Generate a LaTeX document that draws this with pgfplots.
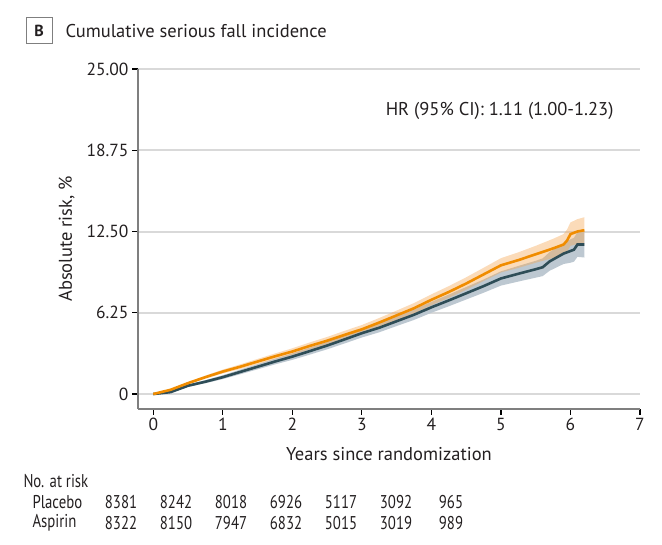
\documentclass[border=0pt]{standalone}
\usepackage{pgfplots}
\pgfplotsset{compat=1.18}
\usepgfplotslibrary{fillbetween}
\usepackage{fontspec}
\setmainfont{PT Sans}
\newfontfamily\narrowfont[FakeStretch=0.8]{PT Sans}

\definecolor{plorange}{HTML}{F08C00}
\definecolor{plorangeband}{HTML}{F5A550}
\definecolor{pldark}{HTML}{2E4D57}
\definecolor{pldarkband}{HTML}{BDC8D1}
\definecolor{gridgray}{HTML}{D9D9D9}
\definecolor{axgray}{HTML}{7F7F7F}
\definecolor{txt}{HTML}{231F20}

% x  estimate  lower  upper
\pgfplotstableread{
x y lo hi
0 0 0 0
0.25 0.33 0.28 0.38
0.5 0.84 0.76 0.92
0.75 1.30 1.18 1.42
1 1.73 1.58 1.88
1.25 2.10 1.92 2.28
1.5 2.50 2.30 2.70
1.75 2.90 2.68 3.12
2 3.27 3.02 3.52
2.25 3.70 3.43 3.97
2.5 4.10 3.81 4.39
2.75 4.55 4.24 4.86
3 4.98 4.65 5.31
3.25 5.50 5.15 5.85
3.5 6.05 5.68 6.42
3.75 6.60 6.20 7.00
4 7.25 6.83 7.67
4.25 7.85 7.40 8.30
4.5 8.50 8.02 8.98
4.75 9.20 8.69 9.71
5 9.90 9.35 10.45
5.25 10.30 9.70 10.90
5.5 10.75 10.10 11.40
5.75 11.20 10.46 11.94
5.9 11.50 10.70 12.30
5.95 11.80 10.95 12.65
6.0 12.30 11.40 13.20
6.1 12.50 11.55 13.45
6.2 12.60 11.60 13.60
}\placebo

\pgfplotstableread{
x y lo hi
0 0 0 0
0.25 0.15 0.10 0.20
0.5 0.64 0.56 0.72
0.75 0.95 0.83 1.07
1 1.30 1.15 1.45
1.25 1.70 1.52 1.88
1.5 2.10 1.90 2.30
1.75 2.50 2.28 2.72
2 2.88 2.63 3.13
2.25 3.30 3.03 3.57
2.5 3.73 3.44 4.02
2.75 4.20 3.89 4.51
3 4.68 4.35 5.01
3.25 5.10 4.75 5.45
3.5 5.60 5.23 5.97
3.75 6.10 5.70 6.50
4 6.67 6.25 7.09
4.25 7.20 6.75 7.65
4.5 7.75 7.27 8.23
4.75 8.30 7.79 8.81
5 8.89 8.34 9.44
5.25 9.25 8.65 9.85
5.5 9.60 8.95 10.25
5.6 9.75 9.07 10.43
5.7 10.20 9.48 10.92
5.8 10.50 9.74 11.26
5.9 10.80 10.00 11.60
6.0 11.00 10.10 11.90
6.05 11.10 10.18 12.02
6.1 11.50 10.55 12.45
6.2 11.50 10.50 12.50
}\aspirin

\begin{document}
\begin{tikzpicture}[font=\fontsize{18.5}{22}\selectfont, text=txt]

\begin{axis}[
  at={(138pt,136pt)}, anchor=south west,
  scale only axis, width=502pt, height=340pt,
  xmin=-0.22, xmax=7, ymin=-1.15, ymax=25,
  axis x line*=bottom, axis y line*=left,
  axis line style={axgray,line width=1.2pt},
  xtick={0,...,7},
  ytick={0,6.25,12.5,18.75,25},
  yticklabels={0,6.25,12.50,18.75,25.00},
  tick style={black,line width=1.2pt},
  tick align=outside, major tick length=6pt,
  ymajorgrids, grid style={gridgray,line width=2pt},
  tick label style={font=\fontsize{17.5}{21}\selectfont},
  /pgf/number format/assume math mode=true,
  xlabel={Years since randomization},
  ylabel={Absolute risk, \%},
  label style={font=\fontsize{18.5}{22}\selectfont},
  xlabel style={yshift=-9pt},
  ylabel style={yshift=5pt},
]
\addplot[draw=none,name path=ahi] table[x=x,y=hi] {\aspirin};
\addplot[draw=none,name path=alo] table[x=x,y=lo] {\aspirin};
\addplot[pldarkband,draw=none] fill between[of=ahi and alo];
\addplot[draw=none,name path=phi] table[x=x,y=hi] {\placebo};
\addplot[draw=none,name path=plo] table[x=x,y=lo] {\placebo};
\addplot[plorangeband,fill opacity=0.4,draw=none] fill between[of=phi and plo];
\addplot[pldark,line width=2.6pt] table[x=x,y=y] {\aspirin};
\addplot[plorange,line width=2.6pt] table[x=x,y=y] {\placebo};
\end{axis}

% panel title
\draw[axgray,line width=1pt] (26pt,501pt) rectangle (52pt,527pt);
\node[font=\fontsize{16}{19}\selectfont\bfseries] at (39pt,514pt) {B};
\node[anchor=base west,font=\fontsize{18.5}{22}\selectfont] at (62pt,507pt) {Cumulative serious fall incidence};

% hazard ratio
\node[anchor=east] at (617pt,434pt) {HR (95\% CI): 1.11 (1.00-1.23)};

% number at risk
\begin{scope}[font=\narrowfont\fontsize{18.5}{22}\selectfont]
\node[anchor=west] at (20pt,64pt) {No. at risk};
\node[anchor=west] at (29pt,43pt) {Placebo};
\node[anchor=west] at (29pt,22pt) {Aspirin};
\foreach \v [count=\i from 0] in {8381,8242,8018,6926,5117,3092,965}
  \node at ({(121+55*\i)*1pt},43pt) {\v};
\foreach \v [count=\i from 0] in {8322,8150,7947,6832,5015,3019,989}
  \node at ({(121+55*\i)*1pt},22pt) {\v};
\end{scope}

\path (0pt,0pt) rectangle (662pt,545pt);
\end{tikzpicture}
\end{document}
